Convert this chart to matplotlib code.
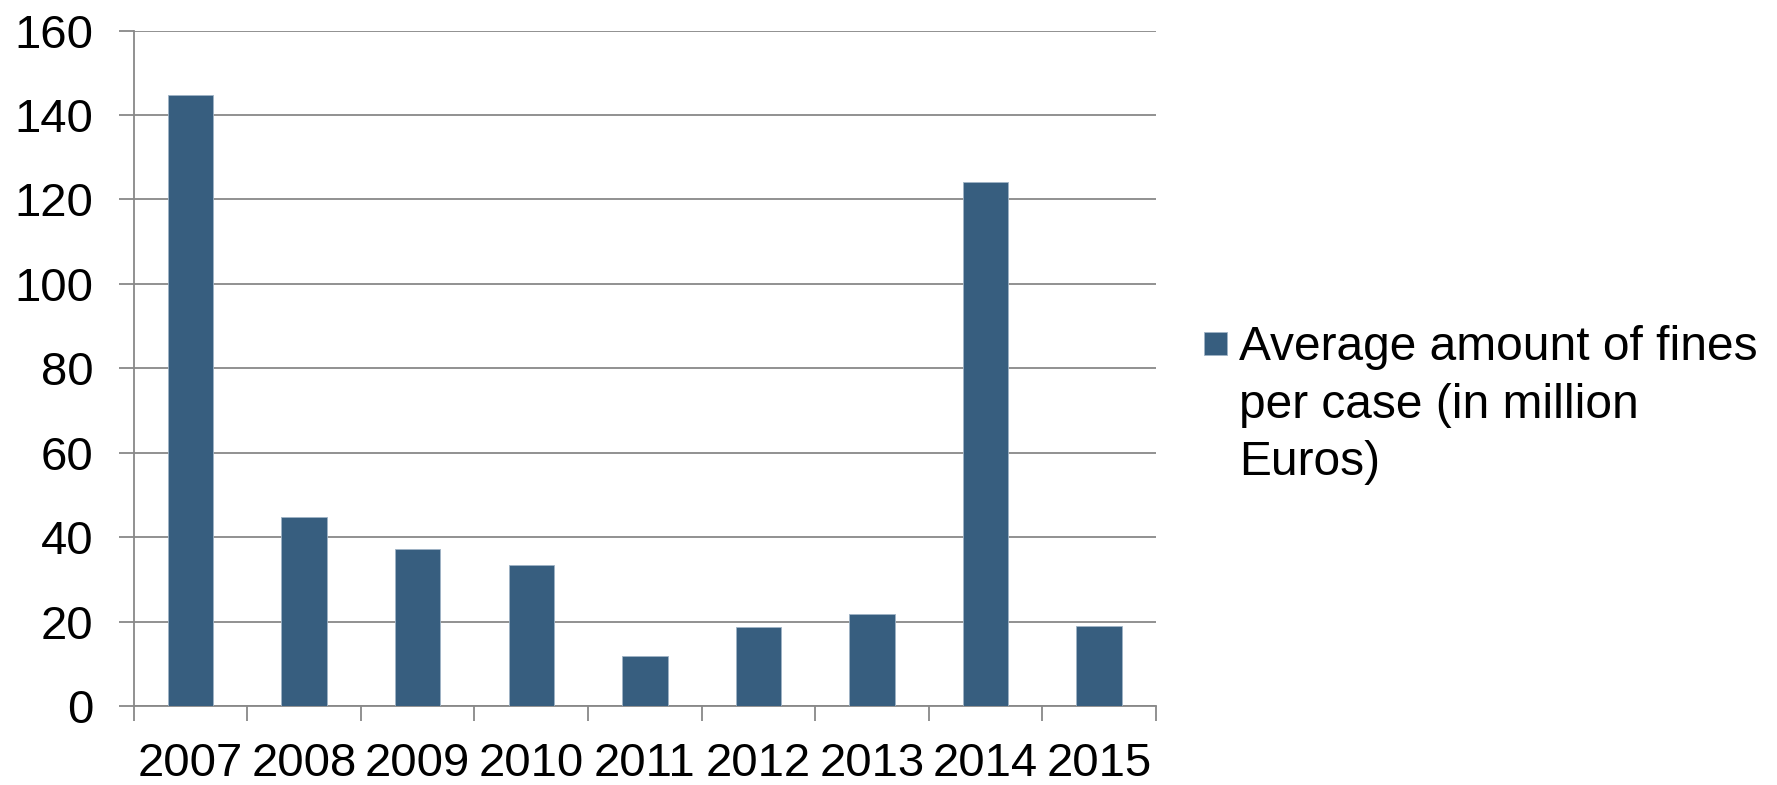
import matplotlib
matplotlib.use("Agg")
import matplotlib.pyplot as plt
from matplotlib.patches import Rectangle
import numpy as np

years = ["2007", "2008", "2009", "2010", "2011", "2012", "2013", "2014", "2015"]
values = [144.8, 44.8, 37.3, 33.3, 11.8, 18.7, 21.8, 124.1, 18.9]
series_label = "Average amount of fines\nper case (in million\nEuros)"
yticks = [0, 20, 40, 60, 80, 100, 120, 140, 160]

bar_color = "#375e7f"
grid_color = "#888888"

plt.rcParams['font.family'] = ['Liberation Sans', 'DejaVu Sans']

W, H = 1777, 785
fig = plt.figure(figsize=(W / 100, H / 100), dpi=100)
ax = fig.add_axes([133.7 / W, 1 - 706 / H, (1156 - 133.7) / W, (706 - 30.6) / H])

x = np.arange(len(years))
ax.bar(x, values, width=0.4, color=bar_color, edgecolor="#9fb3c6", linewidth=0.6,
       label=series_label, zorder=3)

ax.set_xlim(-0.5, len(years) - 0.5)
ax.set_ylim(0, 160)
ax.set_yticks(yticks)
ax.set_yticklabels([str(v) for v in yticks])
ax.yaxis.grid(True, color=grid_color, linewidth=1.3, zorder=0)
ax.set_axisbelow(True)

# major x ticks at category boundaries (marks), minor at centers (labels)
ax.set_xticks(np.arange(-0.5, len(years), 1.0))
ax.set_xticklabels([])
ax.set_xticks(x, minor=True)
ax.set_xticklabels(years, minor=True)
ax.tick_params(axis='x', which='major', direction='out', length=10.8, width=1.3, color=grid_color)
ax.tick_params(axis='x', which='minor', length=0, pad=26, labelsize=34)
ax.tick_params(axis='y', direction='out', length=10.8, width=1.3, color=grid_color,
               pad=18, labelsize=34)

for s in ['top', 'right']:
    ax.spines[s].set_visible(False)
for s in ['left', 'bottom']:
    ax.spines[s].set_color(grid_color)
    ax.spines[s].set_linewidth(1.3)

# legend (manual to align the square with the first text line)
fig.add_artist(Rectangle((1203.6 / W, 1 - 355 / H), 23.5 / W, 23.5 / H,
                         transform=fig.transFigure, facecolor=bar_color,
                         edgecolor="#9fb3c6", linewidth=0.6))
fig.text(1239 / W, 1 - 475 / H, series_label, fontsize=34.5, va='baseline', ha='left',
         linespacing=1.35)

fig.savefig("out.png", dpi=100)
